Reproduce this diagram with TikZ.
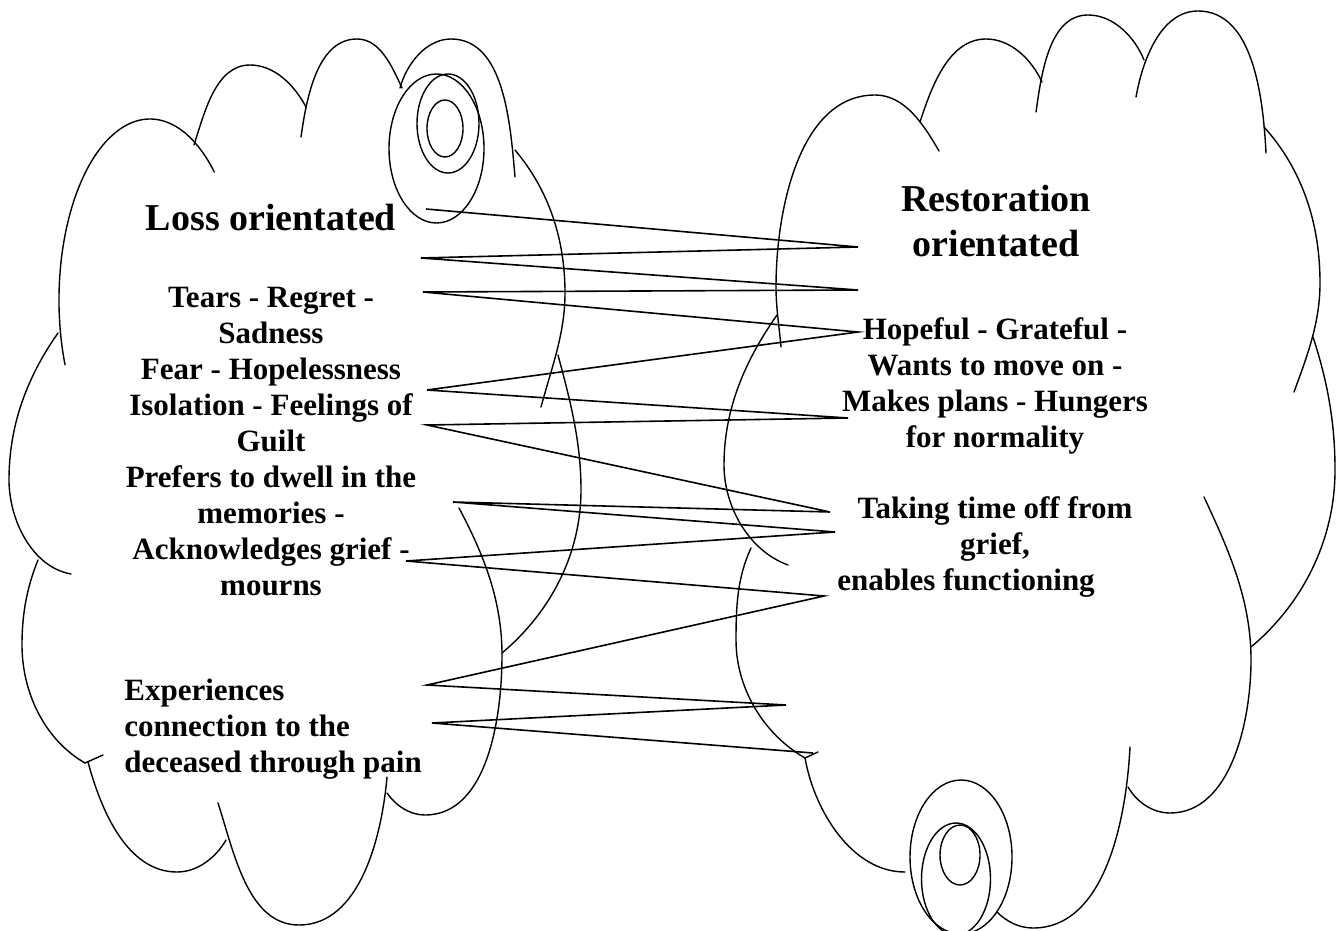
\documentclass[tikz,border=0pt]{standalone}
\usepackage{fontspec}
\setmainfont{Liberation Serif}
\begin{document}
\begin{tikzpicture}[x=0.5pt,y=0.5pt,
  cl/.style={line width=0.7pt, line cap=round, looseness=0.9},
  zz/.style={line width=0.8pt, line join=miter},
  ttl/.style={font=\fontsize{19}{22.5}\selectfont\bfseries, inner sep=0pt, align=center},
  txt/.style={font=\fontsize{15.5}{18}\selectfont\bfseries, inner sep=0pt, align=center}]
\useasboundingbox (0,0) rectangle (1336,-930);

% ---------- left cloud (loss) ----------
\draw[cl] (150,-300) ++(201:91 and 181) arc[start angle=201,end angle=45,x radius=91,y radius=181];
\draw[cl] (194,-145) to[out=72,in=180] (250,-65) to[out=0,in=118] (306,-107);
\draw[cl] (301,-137) to[out=82,in=180] (357,-39) to[out=0,in=115] (402,-88);
\draw[cl] (400,-88) to[out=75,in=180] (451,-39) to[out=0,in=95] (515,-177);
\draw[cl] (515,-150) to[out=-50,in=90] (565,-293) to[out=-90,in=75] (541,-407);
\draw[cl] (558,-355) to[out=-75,in=90] (581,-490) to[out=-90,in=40] (502,-653);
\draw[cl] (459,-508) to[out=-62,in=90] (502,-655) to[out=-90,in=0] (425,-815) to[out=180,in=-55] (387,-793);
\draw[cl] (387,-777) to[out=-95,in=0] (299,-925) to[out=180,in=-72] (218,-803);
\draw[cl] (88,-762) to[out=-75,in=180] (177,-872) to[out=0,in=240] (226,-840);
\draw[cl] (38,-560) to[out=-112,in=90] (22,-645) to[out=-90,in=150] (85,-763) -- (103,-755);
\draw[cl] (58,-333) to[out=-125,in=90] (9,-480) to[out=-90,in=170] (71,-574);
\draw[cl] (436.5,-148.5) ellipse[x radius=47.5,y radius=74.5];
\draw[cl] (448,-123.5) ellipse[x radius=31,y radius=49.5];
\draw[cl] (445,-128.5) ellipse[x radius=18,y radius=28.5];

% ---------- right cloud (restoration) ----------
\draw[cl] (781,-347) to[out=95,in=270] (776,-287) to[out=90,in=180] (875,-95) to[out=0,in=120] (939,-151);
\draw[cl] (920,-122) to[out=72,in=180] (986,-39) to[out=0,in=115] (1042,-82);
\draw[cl] (1036,-112) to[out=82,in=180] (1088,-15) to[out=0,in=112] (1144,-60);
\draw[cl] (1136,-97) to[out=80,in=180] (1198,-11) to[out=0,in=93] (1266,-153);
\draw[cl] (1264,-127) to[out=-48,in=90] (1320,-283) to[out=-90,in=70] (1294,-392);
\draw[cl] (1313,-337) to[out=-72,in=90] (1335,-470) to[out=-90,in=40] (1251,-647);
\draw[cl] (1204,-497) to[out=-65,in=90] (1251,-660) to[out=-90,in=0] (1170,-813) to[out=180,in=-60] (1128,-787);
\draw[cl] (1130,-747) to[out=-93,in=0] (1033,-928) to[out=180,in=-45] (997,-912);
\draw[cl] (805,-758) to[out=-80,in=180] (905,-872);
\draw[cl] (751,-548) to[out=-115,in=90] (736,-640) to[out=-90,in=150] (805,-758) -- (818,-752);
\draw[cl] (777,-315) to[out=-125,in=90] (724,-465) to[out=-90,in=160] (788,-565);
\draw[cl] (961,-857) ellipse[x radius=51,y radius=77];
\draw[cl] (956,-879) ellipse[x radius=34.5,y radius=56];
\draw[cl] (960,-855) ellipse[x radius=20,y radius=30];

% ---------- texts ----------
\node[ttl] (loss) at (271,-218) {Loss orientated};
\node[txt] (lossitems) at (271,-442) {Tears - Regret -\\Sadness\\Fear - Hopelessness\\Isolation - Feelings of\\Guilt\\Prefers to dwell in the\\memories -\\Acknowledges grief -\\mourns};
\node[txt, align=left, anchor=west] (exp) at (124,-729) {Experiences\\connection to the\\deceased through pain};
\node[ttl] (rest) at (996,-221) {Restoration\\orientated};
\node[txt] (hope) at (995,-386) {Hopeful - Grateful -\\Wants to move on -\\Makes plans - Hungers\\for normality};
\node[txt] (take) at (995,-547) {Taking time off from\\grief,\\enables functioning\hspace*{29pt}};

% ---------- zigzag connector ----------
\coordinate (c1) at (426,-209);
\coordinate (c2) at (858,-247);
\coordinate (c3) at (421,-258);
\coordinate (c4) at (858,-290);
\coordinate (c5) at (423,-292);
\coordinate (c6) at (858,-332);
\coordinate (c7) at (427,-390);
\coordinate (c8) at (848,-418);
\coordinate (c9) at (427,-425);
\coordinate (c10) at (830,-512);
\coordinate (c11) at (453,-502);
\coordinate (c12) at (835,-532);
\coordinate (c13) at (406,-561);
\coordinate (c14) at (824,-596);
\coordinate (c15) at (427,-685);
\coordinate (c16) at (786,-705);
\coordinate (c17) at (432,-723);
\coordinate (c18) at (813,-753);
\draw[zz] (c1) -- (c2) -- (c3) -- (c4) -- (c5) -- (c6) -- (c7) -- (c8) -- (c9)
  -- (c10) -- (c11) -- (c12) -- (c13) -- (c14) -- (c15) -- (c16) -- (c17) -- (c18);
\end{tikzpicture}
\end{document}
